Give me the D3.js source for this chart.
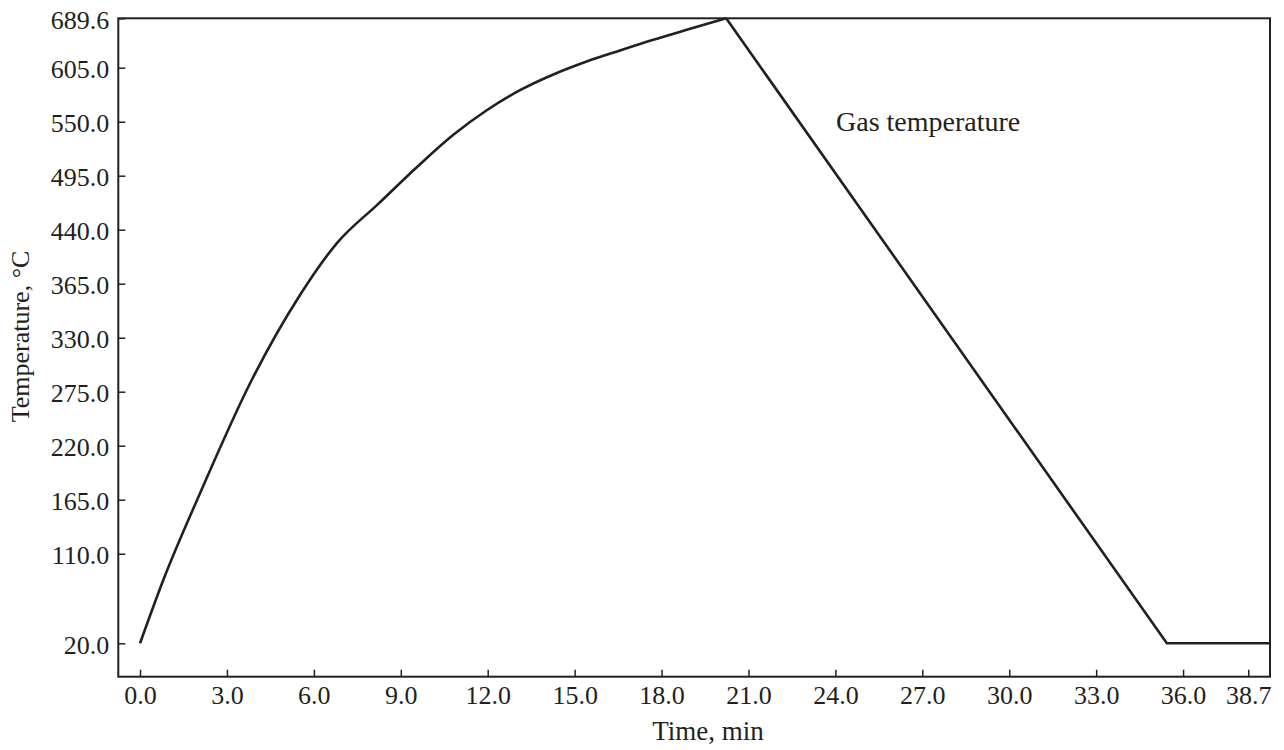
<!DOCTYPE html>
<html>
<head>
<meta charset="utf-8">
<script src="https://cdn.jsdelivr.net/npm/d3@7/dist/d3.min.js"></script>
<style>
  html, body { margin: 0; padding: 0; background: #fff; }
  svg { display: block; }
  text { font-family: "Liberation Serif", "DejaVu Serif", serif; fill: #231f20; }
</style>
</head>
<body>
<svg id="chart" width="1284" height="750"></svg>
<script>
// ---- data ----
const heatTime = [0, 0.804, 2.071, 3.855, 5.522, 6.789, 8.214, 9.664, 10.813, 11.966, 13.115, 14.265, 15.415, 16.566, 17.716, 18.81, 20.23];
const heatTemp = [20, 83.6, 171.5, 286.9, 357.7, 421.1, 466.1, 506.7, 536.6, 561.7, 582.1, 598.1, 615.6, 634.5, 652.8, 669.0, 689.6];
const coolTime = [20.23, 35.44, 39.0];
const coolTemp = [689.6, 20, 20];

const xTickValues = [0, 3, 6, 9, 12, 15, 18, 21, 24, 27, 30, 33, 36, 38.25];
const xTickLabels = ["0.0", "3.0", "6.0", "9.0", "12.0", "15.0", "18.0", "21.0", "24.0", "27.0", "30.0", "33.0", "36.0", "38.7"];
const yTickValues = [20, 110, 165, 220, 275, 330, 365, 440, 495, 550, 605, 689.6];
const yTickLabels = ["20.0", "110.0", "165.0", "220.0", "275.0", "330.0", "365.0", "440.0", "495.0", "550.0", "605.0", "689.6"];
const xDomain = [-0.75, 39.0];
const seriesLabel = "Gas temperature";
const xTitle = "Time, min";
const yTitle = "Temperature, °C";

// ---- layout ----
const plotLeft = 118.3, plotRight = 1270, plotTop = 18.3, plotBottom = 676.7;
const ink = "#231f20";
const svg = d3.select("#chart");

const x = d3.scaleLinear().domain(xDomain).range([plotLeft, plotRight]);

// y axis in the reference has uneven value steps on evenly spaced ticks:
// build a piecewise-linear scale through the tick anchors.
const step = 54;               // spacing between regular ticks
const topGap = 49.4;           // top tick to next one
const bottomGap = 89.6;        // lowest tick to next one
const yRange = yTickValues.map((v, i) => {
  const n = yTickValues.length;
  if (i === n - 1) return plotTop;
  const pos605 = plotTop + topGap;
  if (i === 0) return pos605 + step * (n - 3) + bottomGap;
  return pos605 + step * (n - 2 - i);
});
const y = d3.scaleLinear().domain(yTickValues).range(yRange);

// frame
svg.append("rect")
  .attr("x", plotLeft).attr("y", plotTop)
  .attr("width", plotRight - plotLeft).attr("height", plotBottom - plotTop)
  .attr("fill", "none").attr("stroke", ink).attr("stroke-width", 2);

// x axis
const xAxis = d3.axisBottom(x)
  .tickValues(xTickValues)
  .tickFormat((d, i) => xTickLabels[i])
  .tickSizeInner(-7).tickSizeOuter(0).tickPadding(9);
const gx = svg.append("g").attr("transform", `translate(0,${plotBottom})`).call(xAxis);
gx.select(".domain").remove();
gx.selectAll(".tick line").attr("stroke", ink).attr("stroke-width", 1.5);
gx.selectAll(".tick text").attr("font-size", 26).attr("font-family", '"Liberation Serif", serif').attr("fill", ink);

// y axis
const yAxis = d3.axisLeft(y)
  .tickValues(yTickValues)
  .tickFormat((d, i) => yTickLabels[i])
  .tickSizeInner(-7).tickSizeOuter(0).tickPadding(9);
const gy = svg.append("g").attr("transform", `translate(${plotLeft},0)`).call(yAxis);
gy.select(".domain").remove();
gy.selectAll(".tick line").attr("stroke", ink).attr("stroke-width", 1.5);
gy.selectAll(".tick text").attr("font-size", 26).attr("dy", "0.38em")
  .attr("font-family", '"Liberation Serif", serif').attr("fill", ink);

// series
const heat = heatTime.map((t, i) => [t, heatTemp[i]]);
const cool = coolTime.map((t, i) => [t, coolTemp[i]]);
svg.append("path")
  .datum(heat)
  .attr("d", d3.line().x(d => x(d[0])).y(d => y(d[1])).curve(d3.curveMonotoneX))
  .attr("fill", "none").attr("stroke", ink).attr("stroke-width", 2.6)
  .attr("stroke-linejoin", "round");
svg.append("path")
  .datum(cool)
  .attr("d", d3.line().x(d => x(d[0])).y(d => y(d[1])))
  .attr("fill", "none").attr("stroke", ink).attr("stroke-width", 2.6)
  .attr("stroke-linejoin", "miter");

// labels
svg.append("text")
  .attr("x", 836).attr("y", 131)
  .attr("font-size", 28)
  .text(seriesLabel);

svg.append("text")
  .attr("x", 708).attr("y", 740)
  .attr("text-anchor", "middle")
  .attr("font-size", 27)
  .text(xTitle);

svg.append("text")
  .attr("transform", `translate(29,${(plotTop + plotBottom) / 2 - 11}) rotate(-90)`)
  .attr("text-anchor", "middle")
  .attr("font-size", 26)
  .text(yTitle);
</script>
</body>
</html>
